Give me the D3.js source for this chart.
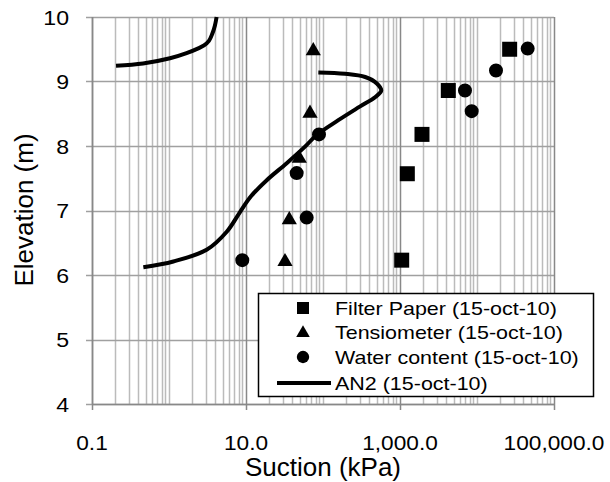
<!DOCTYPE html>
<html>
<head>
<meta charset="utf-8">
<script src="https://cdn.jsdelivr.net/npm/d3@7"></script>
<style>
  body { margin: 0; background: #fff; }
  text { font-family: "Liberation Sans", Arial, sans-serif; fill: #000; }
</style>
</head>
<body>
<div id="chart"></div>
<script>
const width = 610;
const height = 482;
const margin = { top: 17, right: 56, bottom: 78, left: 92 };

// measured data
const filterSuction = [26550, 4240, 1930, 1245, 1052];
const filterElev = [9.50, 8.86, 8.18, 7.57, 6.23];

const tensioSuction = [74.8, 67.8, 49.2, 36.5, 32.1];
const tensioElev = [9.50, 8.53, 7.83, 6.88, 6.23];

const waterSuction = [45500, 17650, 6980, 8530, 88.7, 45.5, 61.4, 8.95];
const waterElev = [9.51, 9.17, 8.86, 8.54, 8.18, 7.58, 6.89, 6.23];

// AN2 model curve, two pieces
const an2UpperSuction = [0.205, 0.46, 1.03, 1.69, 2.36, 2.85, 3.3, 3.65, 3.95, 4.15];
const an2UpperElev = [9.245, 9.28, 9.36, 9.44, 9.51, 9.56, 9.63, 9.74, 9.87, 10.0];
const an2LowerSuction = [0.464, 1.14, 3.08, 5.62, 8.40, 11.6, 18.6, 33.5, 58.4, 82.6, 158, 300, 479, 571, 500, 353, 193, 87];
const an2LowerElev = [6.12, 6.21, 6.39, 6.67, 6.98, 7.22, 7.47, 7.73, 7.99, 8.17, 8.40, 8.61, 8.76, 8.86, 8.97, 9.07, 9.12, 9.14];

const xTickValues = [0.1, 10, 1000, 100000];
const yTickValues = [4, 5, 6, 7, 8, 9, 10];
const legendLabels = [
    'Filter Paper (15-oct-10)',
    'Tensiometer (15-oct-10)',
    'Water content (15-oct-10)',
    'AN2 (15-oct-10)'
];

const zip = (xs, ys) => xs.map((v, i) => ({ x: v, y: ys[i] }));

const svg = d3.select('#chart')
    .append('svg')
    .attr('width', width)
    .attr('height', height);

const x = d3.scaleLog()
    .domain([0.1, 100000])
    .range([margin.left, width - margin.right]);
const y = d3.scaleLinear()
    .domain([4, 10])
    .range([height - margin.bottom, margin.top]);

const x0 = margin.left;
const x1 = width - margin.right;
const y0 = height - margin.bottom;
const y1 = margin.top;

// GRID
const grid = svg.append('g');
const minorVals = [];
for (let e = -1; e < 5; e++) {
    for (let m = 1; m <= 9; m++) {
        const v = m * Math.pow(10, e);
        if (!xTickValues.includes(v)) minorVals.push(v);
    }
}
grid.selectAll('line.minor')
    .data(minorVals)
    .join('line')
    .attr('x1', d => Math.round(x(d)) + 0.5)
    .attr('x2', d => Math.round(x(d)) + 0.5)
    .attr('y1', y1)
    .attr('y2', y0)
    .attr('stroke', '#bbb')
    .attr('stroke-width', 1.5);
grid.selectAll('line.hz')
    .data(yTickValues)
    .join('line')
    .attr('x1', x0 - 6)
    .attr('x2', x1)
    .attr('y1', d => Math.round(y(d)) + 0.5)
    .attr('y2', d => Math.round(y(d)) + 0.5)
    .attr('stroke', '#a0a0a0')
    .attr('stroke-width', 1.5);
grid.selectAll('line.major')
    .data(xTickValues)
    .join('line')
    .attr('x1', d => Math.round(x(d)) + 0.5)
    .attr('x2', d => Math.round(x(d)) + 0.5)
    .attr('y1', y1)
    .attr('y2', y0 + 6)
    .attr('stroke', '#888')
    .attr('stroke-width', 1.5);

// AXIS LINES
svg.append('line')
    .attr('x1', x0 + 0.5).attr('x2', x0 + 0.5)
    .attr('y1', y1).attr('y2', y0)
    .attr('stroke', '#888').attr('stroke-width', 1.5);
svg.append('line')
    .attr('x1', x0).attr('x2', x1)
    .attr('y1', y0 + 0.5).attr('y2', y0 + 0.5)
    .attr('stroke', '#888').attr('stroke-width', 1.5);

// stretched text helper (source image is a bit wide)
function label (g, tx, ty, str, size, sx, anchor, rotate) {
    return g.append('text')
        .attr('transform', `translate(${tx},${ty})${rotate ? ' rotate(-90)' : ''} scale(${sx},1)`)
        .attr('text-anchor', anchor)
        .style('font-size', size + 'px')
        .text(str);
}

const fmtX = d3.format(',.1f');
const labels = svg.append('g');
xTickValues.forEach(v => label(labels, x(v), 450, fmtX(v), 21, 1.08, 'middle'));
yTickValues.forEach(v => label(labels, 69, y(v) + 7.5, String(v), 21, 1.1, 'end'));
label(labels, 323, 476, 'Suction (kPa)', 25, 1.04, 'middle');
label(labels, 33, 210, 'Elevation (m)', 25, 1.04, 'middle', true);

// AN2 CURVE
const line = d3.line()
    .x(d => x(d.x))
    .y(d => y(d.y))
    .curve(d3.curveCatmullRom.alpha(0.5));
const curves = svg.append('g');
[zip(an2UpperSuction, an2UpperElev), zip(an2LowerSuction, an2LowerElev)].forEach(pts => {
    curves.append('path')
        .attr('d', line(pts))
        .attr('fill', 'none')
        .attr('stroke', '#000')
        .attr('stroke-width', 4);
});

// MARKERS
const symSquare = d3.symbol().type(d3.symbolSquare).size(225);
const symTri = d3.symbol().type(d3.symbolTriangle).size(100);
const symCircle = d3.symbol().type(d3.symbolCircle).size(154);
const seriesList = [
    { pts: zip(filterSuction, filterElev), sym: symSquare, dy: 0 },
    { pts: zip(tensioSuction, tensioElev), sym: symTri, dy: 1.5 },
    { pts: zip(waterSuction, waterElev), sym: symCircle, dy: 0 }
];
const marks = svg.append('g');
seriesList.forEach(s => {
    marks.append('g')
        .selectAll('path')
        .data(s.pts)
        .join('path')
        .attr('d', s.sym())
        .attr('transform', d => `translate(${x(d.x)},${y(d.y) + s.dy})`)
        .attr('fill', '#000');
});

// LEGEND
const legend = svg.append('g');
legend.append('rect')
    .attr('x', 258.5).attr('y', 293.5)
    .attr('width', 335).attr('height', 103)
    .attr('fill', '#fff')
    .attr('stroke', '#000')
    .attr('stroke-width', 1.5);
const rowY = [308, 332, 357, 383];
const legendSyms = [
    d3.symbol().type(d3.symbolSquare).size(144),
    d3.symbol().type(d3.symbolTriangle).size(80),
    d3.symbol().type(d3.symbolCircle).size(120)
];
legendSyms.forEach((s, i) => {
    legend.append('path')
        .attr('d', s())
        .attr('transform', `translate(303,${rowY[i] + (i === 1 ? 1 : 0)})`)
        .attr('fill', '#000');
});
legend.append('line')
    .attr('x1', 277).attr('x2', 331)
    .attr('y1', rowY[3]).attr('y2', rowY[3])
    .attr('stroke', '#000')
    .attr('stroke-width', 4);
legendLabels.forEach((t, i) => label(legend, 335, rowY[i] + 6.5, t, 19, 1.13, 'start'));
</script>
</body>
</html>
